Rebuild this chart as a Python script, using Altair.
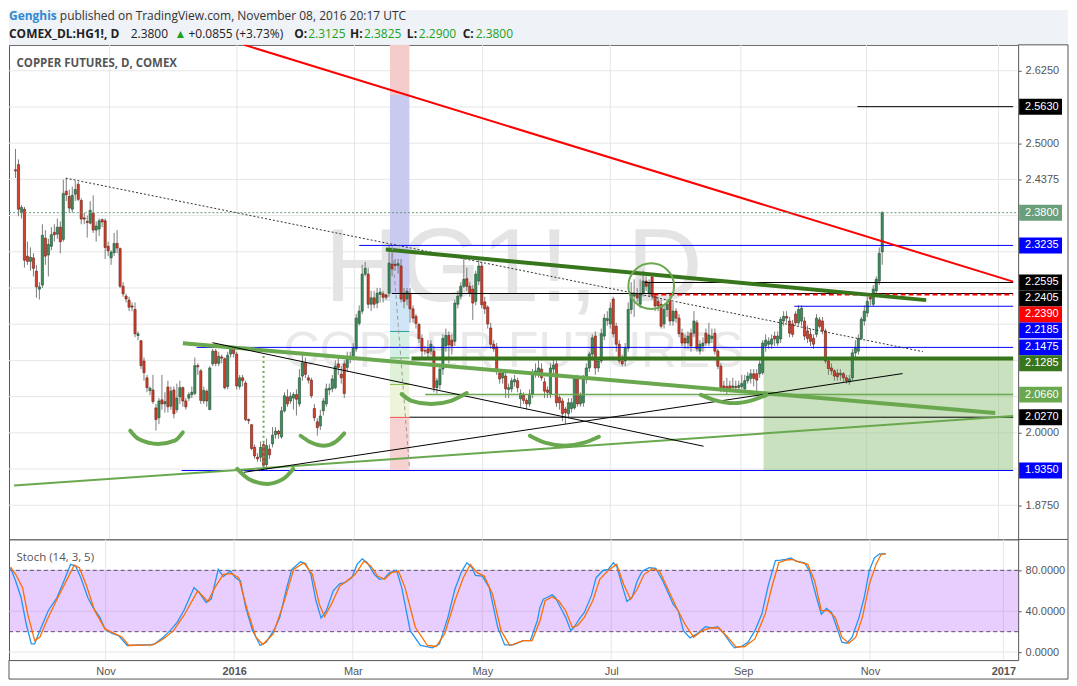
import altair as alt
import pandas as pd

# ---------------- candle data (bar index 0 .. 290, last bar = Nov 08 2016) ----------------
opens = [2.454, 2.463, 2.380, 2.386, 2.305, 2.296, 2.302, 2.279, 2.248, 2.255,
         2.336, 2.307, 2.322, 2.346, 2.343, 2.355, 2.334, 2.417, 2.408, 2.386,
         2.412, 2.429, 2.401, 2.371, 2.365, 2.362, 2.379, 2.350, 2.352, 2.368,
         2.366, 2.322, 2.302, 2.311, 2.327, 2.318, 2.253, 2.236, 2.229, 2.219,
         2.213, 2.168, 2.159, 2.124, 2.095, 2.073, 2.074, 2.043, 2.026, 2.057,
         2.050, 2.079, 2.046, 2.074, 2.040, 2.062, 2.078, 2.055, 2.060, 2.066,
         2.068, 2.116, 2.107, 2.055, 2.072, 2.040, 2.119, 2.141, 2.120, 2.131,
         2.128, 2.080, 2.136, 2.147, 2.136, 2.080, 2.095, 2.086, 2.023, 2.014,
         1.975, 1.958, 1.958, 1.980, 1.945, 1.972, 1.981, 1.997, 2.003, 1.993,
         2.038, 2.062, 2.055, 2.060, 2.066, 2.050, 2.098, 2.121, 2.095, 2.091,
         2.042, 2.019, 2.012, 2.038, 2.050, 2.074, 2.076, 2.078, 2.119, 2.101,
         2.119, 2.113, 2.127, 2.129, 2.145, 2.189, 2.210, 2.274, 2.274, 2.222,
         2.233, 2.224, 2.239, 2.240, 2.238, 2.241, 2.291, 2.291, 2.289, 2.288,
         2.241, 2.231, 2.241, 2.214, 2.201, 2.187, 2.163, 2.142, 2.145, 2.141,
         2.141, 2.078, 2.083, 2.110, 2.150, 2.168, 2.160, 2.158, 2.222, 2.236,
         2.253, 2.266, 2.253, 2.248, 2.227, 2.262, 2.288, 2.226, 2.217, 2.181,
         2.153, 2.148, 2.103, 2.095, 2.098, 2.075, 2.076, 2.088, 2.090, 2.059,
         2.065, 2.056, 2.050, 2.067, 2.102, 2.102, 2.110, 2.088, 2.074, 2.067,
         2.110, 2.119, 2.061, 2.055, 2.041, 2.033, 2.042, 2.043, 2.093, 2.050,
         2.052, 2.093, 2.112, 2.136, 2.167, 2.112, 2.124, 2.167, 2.194, 2.188,
         2.231, 2.184, 2.153, 2.124, 2.124, 2.146, 2.213, 2.236, 2.239, 2.222,
         2.241, 2.262, 2.241, 2.269, 2.236, 2.227, 2.222, 2.188, 2.213, 2.229,
         2.193, 2.210, 2.198, 2.172, 2.163, 2.155, 2.172, 2.172, 2.190, 2.141,
         2.150, 2.172, 2.155, 2.163, 2.172, 2.141, 2.115, 2.081, 2.080, 2.081,
         2.078, 2.080, 2.078, 2.080, 2.076, 2.090, 2.094, 2.102, 2.102, 2.102,
         2.104, 2.150, 2.153, 2.153, 2.167, 2.155, 2.162, 2.193, 2.201, 2.193,
         2.188, 2.205, 2.190, 2.193, 2.193, 2.176, 2.170, 2.163, 2.170, 2.195,
         2.193, 2.176, 2.124, 2.112, 2.107, 2.103, 2.100, 2.102, 2.095, 2.088,
         2.095, 2.138, 2.141, 2.163, 2.193, 2.207, 2.234, 2.222, 2.245, 2.262,
         2.3125]
highs = [2.490, 2.472, 2.393, 2.390, 2.330, 2.320, 2.310, 2.290, 2.260, 2.360,
         2.350, 2.335, 2.355, 2.360, 2.370, 2.365, 2.437, 2.440, 2.420, 2.425,
         2.435, 2.433, 2.405, 2.380, 2.375, 2.400, 2.410, 2.365, 2.370, 2.370,
         2.370, 2.330, 2.315, 2.345, 2.350, 2.320, 2.260, 2.240, 2.235, 2.225,
         2.225, 2.175, 2.160, 2.130, 2.100, 2.080, 2.100, 2.050, 2.060, 2.100,
         2.070, 2.090, 2.080, 2.080, 2.085, 2.090, 2.080, 2.060, 2.070, 2.080,
         2.130, 2.120, 2.110, 2.080, 2.075, 2.115, 2.145, 2.145, 2.140, 2.135,
         2.130, 2.140, 2.150, 2.150, 2.140, 2.100, 2.100, 2.090, 2.025, 2.015,
         1.980, 1.965, 1.985, 1.985, 1.990, 1.980, 2.010, 2.010, 2.005, 2.045,
         2.070, 2.075, 2.070, 2.070, 2.075, 2.110, 2.140, 2.130, 2.100, 2.095,
         2.050, 2.025, 2.040, 2.060, 2.085, 2.085, 2.100, 2.125, 2.130, 2.115,
         2.125, 2.140, 2.140, 2.155, 2.205, 2.220, 2.290, 2.295, 2.285, 2.245,
         2.245, 2.250, 2.250, 2.245, 2.240, 2.325, 2.320, 2.300, 2.300, 2.300,
         2.250, 2.250, 2.250, 2.220, 2.205, 2.190, 2.170, 2.150, 2.160, 2.160,
         2.150, 2.095, 2.120, 2.170, 2.180, 2.175, 2.170, 2.230, 2.245, 2.260,
         2.300, 2.285, 2.260, 2.255, 2.280, 2.300, 2.295, 2.235, 2.220, 2.190,
         2.160, 2.155, 2.110, 2.110, 2.105, 2.085, 2.095, 2.100, 2.095, 2.075,
         2.070, 2.060, 2.075, 2.110, 2.120, 2.125, 2.120, 2.095, 2.080, 2.120,
         2.130, 2.125, 2.065, 2.060, 2.045, 2.060, 2.060, 2.100, 2.100, 2.070,
         2.100, 2.120, 2.140, 2.170, 2.175, 2.130, 2.180, 2.205, 2.210, 2.225,
         2.235, 2.190, 2.160, 2.135, 2.155, 2.225, 2.260, 2.265, 2.250, 2.265,
         2.280, 2.270, 2.265, 2.275, 2.240, 2.235, 2.230, 2.220, 2.230, 2.240,
         2.225, 2.215, 2.205, 2.180, 2.170, 2.175, 2.180, 2.210, 2.195, 2.160,
         2.165, 2.180, 2.190, 2.180, 2.180, 2.145, 2.120, 2.090, 2.095, 2.090,
         2.095, 2.090, 2.090, 2.100, 2.100, 2.105, 2.110, 2.110, 2.110, 2.125,
         2.160, 2.170, 2.165, 2.170, 2.175, 2.175, 2.200, 2.210, 2.210, 2.200,
         2.195, 2.210, 2.220, 2.220, 2.200, 2.185, 2.180, 2.170, 2.205, 2.200,
         2.200, 2.180, 2.130, 2.120, 2.110, 2.110, 2.110, 2.105, 2.100, 2.100,
         2.145, 2.160, 2.170, 2.200, 2.220, 2.235, 2.240, 2.255, 2.270, 2.320,
         2.3825]
lows = [2.440, 2.374, 2.370, 2.285, 2.290, 2.280, 2.270, 2.233, 2.230, 2.250,
        2.290, 2.270, 2.315, 2.330, 2.335, 2.310, 2.330, 2.400, 2.380, 2.380,
        2.400, 2.400, 2.360, 2.360, 2.337, 2.360, 2.345, 2.330, 2.340, 2.355,
        2.300, 2.305, 2.290, 2.305, 2.310, 2.250, 2.235, 2.225, 2.210, 2.210,
        2.165, 2.160, 2.110, 2.090, 2.070, 2.065, 2.050, 2.004, 2.015, 2.040,
        2.035, 2.035, 2.040, 2.025, 2.035, 2.050, 2.045, 2.040, 2.055, 2.060,
        2.065, 2.100, 2.050, 2.050, 2.045, 2.040, 2.115, 2.115, 2.115, 2.120,
        2.075, 2.075, 2.130, 2.130, 2.075, 2.075, 2.080, 2.020, 2.015, 1.970,
        1.955, 1.950, 1.950, 1.935, 1.935, 1.955, 1.975, 1.990, 1.990, 1.990,
        2.035, 2.045, 2.050, 2.040, 2.030, 2.045, 2.090, 2.095, 2.085, 2.060,
        2.020, 1.995, 2.005, 2.030, 2.045, 2.065, 2.070, 2.075, 2.100, 2.085,
        2.060, 2.105, 2.120, 2.125, 2.140, 2.185, 2.205, 2.270, 2.215, 2.210,
        2.215, 2.215, 2.225, 2.225, 2.230, 2.235, 2.270, 2.280, 2.275, 2.225,
        2.215, 2.220, 2.190, 2.190, 2.180, 2.155, 2.130, 2.135, 2.130, 2.135,
        2.070, 2.068, 2.075, 2.100, 2.140, 2.120, 2.135, 2.150, 2.215, 2.230,
        2.250, 2.245, 2.235, 2.195, 2.220, 2.255, 2.215, 2.205, 2.180, 2.145,
        2.140, 2.100, 2.085, 2.085, 2.060, 2.060, 2.070, 2.080, 2.070, 2.045,
        2.050, 2.040, 2.045, 2.060, 2.095, 2.095, 2.090, 2.060, 2.060, 2.060,
        2.100, 2.045, 2.040, 2.020, 2.015, 2.025, 2.035, 2.040, 2.045, 2.045,
        2.045, 2.085, 2.105, 2.125, 2.100, 2.105, 2.120, 2.160, 2.185, 2.180,
        2.165, 2.140, 2.120, 2.115, 2.115, 2.140, 2.205, 2.200, 2.225, 2.215,
        2.235, 2.245, 2.235, 2.230, 2.210, 2.210, 2.180, 2.180, 2.200, 2.185,
        2.185, 2.190, 2.165, 2.150, 2.145, 2.145, 2.140, 2.165, 2.140, 2.135,
        2.140, 2.150, 2.150, 2.155, 2.135, 2.110, 2.070, 2.070, 2.065, 2.070,
        2.070, 2.072, 2.072, 2.075, 2.070, 2.085, 2.085, 2.080, 2.065, 2.095,
        2.100, 2.140, 2.145, 2.145, 2.150, 2.150, 2.155, 2.185, 2.190, 2.165,
        2.165, 2.185, 2.185, 2.185, 2.160, 2.155, 2.150, 2.145, 2.165, 2.180,
        2.170, 2.120, 2.100, 2.100, 2.090, 2.090, 2.090, 2.088, 2.085, 2.083,
        2.090, 2.130, 2.135, 2.160, 2.185, 2.200, 2.220, 2.218, 2.240, 2.255,
        2.290]
closes = [2.452, 2.386, 2.389, 2.298, 2.296, 2.303, 2.284, 2.252, 2.252, 2.341,
          2.305, 2.325, 2.342, 2.342, 2.355, 2.330, 2.413, 2.411, 2.388, 2.410,
          2.420, 2.403, 2.369, 2.369, 2.363, 2.384, 2.350, 2.357, 2.366, 2.364,
          2.320, 2.314, 2.312, 2.327, 2.319, 2.253, 2.240, 2.231, 2.217, 2.217,
          2.171, 2.171, 2.116, 2.104, 2.078, 2.077, 2.054, 2.023, 2.055, 2.050,
          2.054, 2.045, 2.072, 2.033, 2.060, 2.078, 2.055, 2.045, 2.066, 2.070,
          2.116, 2.114, 2.056, 2.073, 2.055, 2.112, 2.141, 2.120, 2.132, 2.129,
          2.078, 2.134, 2.147, 2.137, 2.081, 2.095, 2.090, 2.023, 2.021, 1.973,
          1.960, 1.955, 1.975, 1.944, 1.978, 1.962, 1.996, 2.003, 1.998, 2.038,
          2.064, 2.050, 2.063, 2.066, 2.058, 2.095, 2.121, 2.101, 2.091, 2.064,
          2.026, 2.009, 2.029, 2.055, 2.076, 2.077, 2.093, 2.115, 2.113, 2.095,
          2.068, 2.132, 2.131, 2.146, 2.198, 2.210, 2.274, 2.284, 2.222, 2.233,
          2.222, 2.241, 2.243, 2.234, 2.234, 2.293, 2.283, 2.289, 2.292, 2.231,
          2.227, 2.244, 2.214, 2.198, 2.189, 2.163, 2.141, 2.141, 2.138, 2.153,
          2.078, 2.090, 2.110, 2.163, 2.168, 2.152, 2.150, 2.224, 2.236, 2.253,
          2.265, 2.253, 2.241, 2.224, 2.274, 2.288, 2.221, 2.214, 2.188, 2.153,
          2.145, 2.107, 2.093, 2.103, 2.076, 2.078, 2.090, 2.092, 2.078, 2.068,
          2.056, 2.050, 2.067, 2.103, 2.107, 2.112, 2.095, 2.072, 2.070, 2.112,
          2.117, 2.052, 2.052, 2.033, 2.035, 2.052, 2.052, 2.093, 2.050, 2.064,
          2.093, 2.112, 2.136, 2.164, 2.112, 2.124, 2.171, 2.198, 2.197, 2.215,
          2.171, 2.153, 2.124, 2.119, 2.146, 2.213, 2.241, 2.241, 2.233, 2.240,
          2.262, 2.253, 2.258, 2.236, 2.219, 2.219, 2.184, 2.213, 2.222, 2.193,
          2.210, 2.198, 2.171, 2.155, 2.155, 2.167, 2.150, 2.193, 2.145, 2.153,
          2.155, 2.155, 2.169, 2.167, 2.141, 2.115, 2.078, 2.078, 2.076, 2.076,
          2.081, 2.078, 2.082, 2.085, 2.090, 2.098, 2.102, 2.094, 2.091, 2.119,
          2.155, 2.160, 2.158, 2.162, 2.162, 2.167, 2.196, 2.201, 2.198, 2.172,
          2.170, 2.190, 2.213, 2.215, 2.167, 2.163, 2.158, 2.153, 2.198, 2.184,
          2.176, 2.124, 2.111, 2.107, 2.098, 2.097, 2.103, 2.095, 2.090, 2.093,
          2.138, 2.146, 2.163, 2.196, 2.210, 2.227, 2.231, 2.248, 2.265, 2.310,
          2.380]

# ---------------- axes ticks ----------------
month_pos = [31.5, 74.1, 113.4, 156.3, 199.0, 242.7, 284.7, 328.9]
month_lab = ["Nov", "2016", "Mar", "May", "Jul", "Sep", "Nov", "2017"]
price_ticks = [1.875, 1.9375, 2.0, 2.0625, 2.125, 2.1875, 2.25, 2.3125,
               2.375, 2.4375, 2.5, 2.5625, 2.625]
stoch_ticks = [0, 40, 80]
stoch_band = [20, 80]

# ---------------- stochastic (14,3,5) ----------------
k_bar = [0, 1.7, 3.5, 5.2, 6.9, 8.0, 9.7, 12.5, 15.4, 17.7, 19.9, 21.6, 23.3, 25.6, 27.3,
         29.6, 31.3, 33.6, 35.8, 38.7, 42.7, 46.1, 47.8, 50.6, 52.9, 55.2, 57.4, 60.8,
         62.5, 64.8, 66.5, 68.8, 70.5, 72.8, 74.5, 76.2, 77.9, 80.2, 82.7, 84.7, 87.5,
         89.2, 91.5, 93.2, 96.1, 97.8, 99.5, 101.2, 102.9, 104.6, 106.9, 109.1, 110.8,
         113.1, 114.8, 116.5, 118.2, 120.5, 122.2, 123.9, 125.6, 127.9, 129.6, 132.4,
         135.8, 139.8, 142.1, 144.9, 147.2, 149.5, 151.2, 152.9, 154.0, 156.3, 158.6,
         161.4, 163.7, 166.5, 169.9, 172.2, 174.5, 175.4, 176.5, 177.7, 179.4, 180.5,
         182.2, 183.9, 185.6, 186.7, 188.4, 190.1, 192.4, 194.0, 196.3, 198.0, 199.7,
         200.8, 202.5, 204.2, 205.9, 207.6, 209.3, 211.6, 213.8, 216.1, 217.8, 219.5,
         221.2, 222.9, 225.1, 227.4, 230.2, 232.5, 234.2, 236.4, 238.7, 239.8, 242.1,
         244.3, 246.6, 248.9, 251.1, 253.4, 255.1, 256.8, 258.5, 260.2, 263.0, 264.7,
         267.0, 268.6, 270.3, 272.0, 273.7, 275.4, 277.1, 278.8, 281.1, 282.8, 284.5,
         286.2, 287.9, 290.0]
k_val = [82.5, 69.6, 53.4, 27.5, 8.1, 8.1, 21.0, 40.5, 53.4, 69.6, 85.8, 84.1, 72.8, 53.4,
         43.7, 34.0, 22.7, 18.4, 16.2, 6.5, 7.1, 7.1, 8.1, 14.6, 21.0, 29.1, 40.5, 63.1,
         58.3, 48.5, 51.8, 80.9, 73.8, 79.3, 72.8, 69.6, 43.7, 21.0, 6.5, 9.7, 22.7, 34.0,
         63.1, 80.9, 88.3, 86.4, 76.1, 50.2, 33.3, 40.5, 59.9, 67.0, 68.0, 72.8, 85.8,
         91.3, 87.4, 76.1, 71.2, 72.2, 77.7, 79.9, 63.1, 21.0, 6.5, 4.2, 8.1, 34.0, 61.5,
         79.3, 87.4, 82.5, 75.1, 74.4, 63.1, 24.3, 7.1, 7.1, 11.3, 11.3, 30.7, 43.7, 51.8,
         53.4, 56.0, 53.4, 43.7, 34.0, 21.0, 24.3, 32.4, 38.8, 55.0, 72.8, 79.9, 80.9,
         87.4, 84.1, 66.3, 49.5, 53.4, 69.6, 79.3, 82.5, 81.9, 69.6, 58.3, 46.9, 40.5,
         21.0, 13.9, 17.8, 24.9, 23.6, 24.9, 17.8, 8.1, 4.2, 5.5, 9.7, 21.0, 37.2, 66.3,
         89.6, 90.0, 90.6, 92.2, 89.0, 87.4, 79.3, 53.4, 37.2, 42.7, 38.8, 24.3, 9.7, 8.7,
         14.6, 34.0, 53.4, 79.9, 92.2, 96.1, 96.1]
d_bar = [0, 1.7, 4.0, 5.7, 8.0, 9.7, 12.0, 15.4, 18.2, 21.1, 22.8, 25.0, 27.9, 31.3, 34.7,
         37.0, 39.2, 47.2, 50.6, 54.0, 57.4, 62.0, 65.4, 67.7, 70.5, 73.3, 75.6, 78.5,
         81.3, 83.6, 87.0, 90.4, 93.8, 97.2, 100.0, 102.3, 104.0, 106.3, 109.1, 111.4,
         114.2, 117.1, 119.4, 121.6, 123.9, 126.2, 128.5, 130.7, 134.1, 138.1, 141.0,
         143.8, 147.2, 150.0, 152.3, 154.6, 156.9, 159.7, 162.5, 165.4, 169.9, 172.8,
         175.4, 177.1, 179.4, 181.6, 183.9, 186.1, 187.8, 190.1, 192.9, 195.2, 198.0,
         200.8, 203.1, 205.4, 207.6, 209.9, 212.7, 215.0, 217.8, 220.6, 223.4, 226.3,
         229.1, 231.9, 234.7, 237.6, 240.4, 243.2, 246.6, 250.0, 252.3, 254.5, 256.8,
         259.0, 261.3, 264.1, 266.4, 268.6, 270.9, 273.2, 275.4, 277.7, 280.0, 282.2,
         284.5, 286.7, 288.4, 290.0]
d_val = [83.2, 76.1, 63.1, 37.2, 11.3, 14.6, 30.7, 51.8, 68.0, 85.1, 82.5, 66.3, 40.5, 22.7,
         17.8, 14.6, 6.5, 7.1, 12.9, 21.0, 35.6, 59.9, 49.5, 63.1, 76.1, 76.7, 72.8, 40.5,
         14.6, 7.4, 17.8, 46.9, 80.9, 87.4, 76.1, 46.9, 34.6, 46.9, 64.7, 69.6, 76.1, 89.0,
         84.1, 74.4, 71.2, 77.7, 79.3, 63.1, 24.3, 6.5, 5.5, 17.8, 50.2, 72.8, 85.8, 77.7,
         74.4, 56.6, 21.0, 6.5, 11.3, 11.3, 30.7, 50.2, 54.0, 50.2, 40.5, 24.3, 25.9, 34.0,
         50.2, 71.2, 79.9, 85.8, 66.3, 51.8, 61.5, 76.1, 81.6, 79.3, 61.5, 43.7, 27.5, 14.6,
         21.0, 23.6, 23.6, 14.6, 4.9, 5.5, 12.9, 37.2, 64.7, 87.4, 90.0, 90.6, 88.0, 85.8,
         69.6, 40.5, 40.5, 34.0, 14.6, 8.7, 14.6, 34.0, 66.3, 85.8, 95.5, 96.1]

# ---------------- drawings (bar index, price) ----------------
seg_x1 = [76.5, 16.8, 123.9, 56.0, -0.5, 65.9, 76.4, 126.0]
seg_y1 = [2.6697, 2.4396, 2.3164, 2.1546, 1.9090, 2.1556, 1.9319, 2.3221]
seg_x2 = [333.8, 303.6, 304.7, 327.8, 333.8, 230.2, 296.8, 131.8]
seg_y2 = [2.2610, 2.1401, 2.2291, 2.0341, 2.0290, 1.9769, 2.1023, 1.9400]
seg_color = ["#ff0000", "#333333", "#38761d", "#6aa84f", "#6aa84f", "#000000", "#000000", "#9a9a9a"]
seg_width = [2, 1, 4, 4, 2, 1, 1, 1]
seg_dash = [None, [2, 2], None, None, None, None, None, [4, 3]]

h_price = [2.5630, 2.3235, 2.2595, 2.2405, 2.2390, 2.2185, 2.1475, 2.1285, 2.0660, 2.0270, 1.9350]
h_start = [281.7, 115.0, 210.5, 125.9, 213.4, 260.6, 60.6, 132.5, 137.1, 131.8, 55.6]
h_color = ["#000000", "#0000ff", "#000000", "#000000", "#ff0000", "#0000ff", "#0000ff",
           "#38761d", "#6aa84f", "#000000", "#0000ff"]
h_width = [1, 1, 1, 1, 2, 1, 1, 4, 1.5, 1, 1]
h_dash = [None, None, None, None, [5, 3], None, None, None, None, None, None]

last_price = 2.3800
lab_price = [2.5630, 2.3800, 2.3235, 2.2595, 2.2405, 2.2390, 2.2185, 2.1475, 2.1285, 2.0660, 2.0270, 1.9350]
lab_bg = ["#000000", "#6a9f7c", "#0000ff", "#000000", "#000000", "#ff0000", "#0000ff",
          "#0000ff", "#38761d", "#6aa84f", "#000000", "#0000ff"]

fib_x = [125.3, 131.8]
fib_bounds = [2.6697, 2.5830, 2.2403, 2.1750, 2.1293, 2.0834, 2.0267, 1.9350]
fib_colors = ["#f4cccc", "#c9caf0", "#d0e5f5", "#d4efe4", "#dff2d8", "#eef4da", "#f6d2d2"]
fib_line_price = [2.1750, 2.1293, 2.0834, 2.0267]
fib_line_color = ["#26a69a", "#4caf50", "#8bc34a", "#ef5350"]

zone_x = [250.3, 333.8]
zone_y = [1.9350, 2.1285]

arc_id = [1] * 5 + [2] * 5 + [3] * 5 + [4] * 5 + [5] * 5 + [6] * 5
arc_bar = [38.4, 41.2, 47.8, 53.3, 56.0,
           74.2, 78.0, 84.1, 89.6, 92.9,
           95.4, 98.4, 103.4, 107.2, 110.0,
           129.2, 132.5, 139.1, 145.7, 151.0,
           172.1, 177.1, 183.7, 190.3, 195.2,
           229.3, 233.7, 240.3, 246.9, 251.3]
arc_price = [2.0037, 1.9894, 1.9808, 1.9865, 2.0008,
             1.9377, 1.9205, 1.9119, 1.9205, 1.9377,
             1.9950, 1.9847, 1.9778, 1.9847, 1.9990,
             2.0668, 2.0553, 2.0496, 2.0553, 2.0686,
             1.9950, 1.9830, 1.9778, 1.9830, 1.9933,
             2.0656, 2.0570, 2.0513, 2.0570, 2.0656]
circle_bar = [212.7]
circle_price = [2.2532]
vdot_bar = [83.0]
vdot_lo = [1.9400]
vdot_hi = [2.1327]

# ---------------- layout / style ----------------
W, HM, HS = 1012, 496, 121
X_DOM = [-0.5, 333.8]
Y_DOM = [1.816, 2.6697]
S_DOM = [-7.8, 110.2]
FONT = "Liberation Sans"
UI = "Open Sans"
GRID = "#e6e6e6"
FRAME = "#555555"
AX = "#555555"
HEADER_BG = "#eff2f6"
UP_FILL, UP_LINE = "#3f8d5d", "#1f4d31"
DN_FILL, DN_LINE = "#d2412d", "#6b1d10"

rng = Y_DOM[1] - Y_DOM[0]


def p2px(p):
    return (Y_DOM[1] - p) / rng * HM


def px2p(px):
    return Y_DOM[1] - px / HM * rng


# stacked positions of the coloured price labels (they push each other down)
order = sorted(range(len(lab_price)), key=lambda i: -lab_price[i])
pos = {}
prev = -1e9
for i in order:
    yv = max(p2px(lab_price[i]), prev + 16)
    pos[i] = yv
    prev = yv

# axis tick labels that stay visible (the coloured boxes hide the others)
axis_ticks = [t for t in price_ticks if all(abs(p2px(t) - pos[i]) > 11 for i in pos)]

xscale = alt.Scale(domain=X_DOM, nice=False, zero=False)
yscale = alt.Scale(domain=Y_DOM, nice=False, zero=False)
sscale = alt.Scale(domain=S_DOM, nice=False, zero=False)

main_y_axis = alt.Axis(orient="right", values=axis_ticks, format=".4f", title=None, grid=False,
                       domain=False, ticks=True, tickSize=3, tickColor=AX, labelColor=AX,
                       labelFont=FONT, labelFontSize=11, labelPadding=4, labelOverlap=False,
                       labelFlush=False)
label_expr = " : ".join(f"datum.value == {p} ? '{l}'" for p, l in zip(month_pos, month_lab)) + " : ''"
year_test = " || ".join(f"datum.value == {p}" for p, l in zip(month_pos, month_lab) if l.isdigit())
stoch_x_axis = alt.Axis(values=month_pos, labelExpr=label_expr, title=None, grid=False, domain=False,
                        ticks=False, labelPadding=5, labelColor=AX, labelFont=FONT, labelFontSize=11,
                        labelFontWeight={"condition": {"test": year_test, "value": "bold"}, "value": "normal"},
                        labelOverlap=False, labelFlush=False)
stoch_y_axis = alt.Axis(orient="right", values=stoch_ticks, format=".4f", title=None, grid=False,
                        domain=False, ticks=True, tickSize=3, tickColor=AX, labelColor=AX,
                        labelFont=FONT, labelFontSize=11, labelPadding=4, labelOverlap=False,
                        labelFlush=False)


def XM(f):
    return alt.X(f"{f}:Q", scale=xscale, axis=None)


def YM(f):
    return alt.Y(f"{f}:Q", scale=yscale, axis=main_y_axis)


def XS(f):
    return alt.X(f"{f}:Q", scale=xscale, axis=stoch_x_axis)


def YS(f):
    return alt.Y(f"{f}:Q", scale=sscale, axis=stoch_y_axis)


one = pd.DataFrame({"k": [0]})


def prule(x, x2, y, y2, color, width=1.0):
    return alt.Chart(one).mark_rule(color=color, strokeWidth=width).encode(
        x=alt.value(x), x2=alt.value(x2), y=alt.value(y), y2=alt.value(y2))


def prect(x, x2, y, y2, fill):
    return alt.Chart(one).mark_rect(fill=fill).encode(
        x=alt.value(x), x2=alt.value(x2), y=alt.value(y), y2=alt.value(y2))


def ptext(txt, x, y, size, color, weight="normal", font=UI, align="left", baseline="alphabetic"):
    return alt.Chart(one).mark_text(text=txt, fontSize=size, color=color, fontWeight=weight,
                                    font=font, align=align, baseline=baseline).encode(
        x=alt.value(x), y=alt.value(y))


def rule_kw(color, width, dash):
    kw = dict(color=color, strokeWidth=width, clip=True)
    if dash:
        kw["strokeDash"] = dash
    return kw


# ---------------- main panel ----------------
candles = pd.DataFrame({"i": list(range(len(closes))), "o": opens, "h": highs, "l": lows, "c": closes})
candles["fill"] = [UP_FILL if c >= o else DN_FILL for o, c in zip(opens, closes)]
candles["line"] = [UP_LINE if c >= o else DN_LINE for o, c in zip(opens, closes)]

main_layers = [
    prect(0, W + 50, -35, 0, HEADER_BG),
    alt.Chart(pd.DataFrame({"m": month_pos})).mark_rule(color=GRID).encode(
        x=XM("m"), y=alt.value(0), y2=alt.value(HM)),
    alt.Chart(pd.DataFrame({"p": price_ticks})).mark_rule(color=GRID).encode(
        y=YM("p"), x=alt.value(0), x2=alt.value(W)),
    ptext("HG1!, D", W / 2, 257, 105, "#e4e4e4", font=FONT, align="center"),
    ptext("COPPER FUTURES", W / 2, 323, 50, "#e9e9e9", font=FONT, align="center"),
]

fib_df = pd.DataFrame({"x0": [fib_x[0]] * (len(fib_bounds) - 1), "x1": [fib_x[1]] * (len(fib_bounds) - 1),
                       "top": fib_bounds[:-1], "bot": fib_bounds[1:], "col": fib_colors})
main_layers.append(alt.Chart(fib_df).mark_rect(clip=True).encode(
    x=XM("x0"), x2=alt.X2("x1"), y=YM("top"), y2=alt.Y2("bot"), fill=alt.Fill("col:N", scale=None)))
zone_df = pd.DataFrame({"x0": [zone_x[0]], "x1": [zone_x[1]], "y0": [zone_y[0]], "y1": [zone_y[1]]})
main_layers.append(alt.Chart(zone_df).mark_rect(fill="#93c47d", opacity=0.5, clip=True).encode(
    x=XM("x0"), x2=alt.X2("x1"), y=YM("y0"), y2=alt.Y2("y1")))

# candles
main_layers.append(alt.Chart(candles).mark_rule(color="#7b7b7b", strokeWidth=1).encode(
    x=XM("i"), y=YM("l"), y2=alt.Y2("h")))
main_layers.append(alt.Chart(candles).mark_bar(size=2.2, strokeWidth=0.6).encode(
    x=XM("i"), y=YM("o"), y2=alt.Y2("c"),
    fill=alt.Fill("fill:N", scale=None), stroke=alt.Stroke("line:N", scale=None)))

# fib level ticks
fl_df = pd.DataFrame({"x0": [fib_x[0]] * 4, "x1": [fib_x[1]] * 4, "p": fib_line_price, "col": fib_line_color})
main_layers.append(alt.Chart(fl_df).mark_rule(strokeWidth=1).encode(
    x=XM("x0"), x2=alt.X2("x1"), y=YM("p"), color=alt.Color("col:N", scale=None)))

# horizontal lines
h_df = pd.DataFrame({"x0": h_start, "x1": [X_DOM[1]] * len(h_start), "p": h_price})
for i in range(len(h_price)):
    main_layers.append(alt.Chart(h_df.iloc[[i]]).mark_rule(**rule_kw(h_color[i], h_width[i], h_dash[i])).encode(
        x=XM("x0"), x2=alt.X2("x1"), y=YM("p")))

# trend lines
seg_df = pd.DataFrame({"x1": seg_x1, "y1": seg_y1, "x2": seg_x2, "y2": seg_y2})
for i in range(len(seg_x1)):
    main_layers.append(alt.Chart(seg_df.iloc[[i]]).mark_rule(**rule_kw(seg_color[i], seg_width[i], seg_dash[i])).encode(
        x=XM("x1"), x2=alt.X2("x2"), y=YM("y1"), y2=alt.Y2("y2")))

# arcs, circle, dotted vertical
arc_df = pd.DataFrame({"id": arc_id, "b": arc_bar, "p": arc_price})
main_layers.append(alt.Chart(arc_df).mark_line(color="#6aa84f", strokeWidth=4, interpolate="monotone",
                                               strokeCap="round", clip=True).encode(
    x=XM("b"), y=YM("p"), detail="id:N"))
main_layers.append(alt.Chart(pd.DataFrame({"b": circle_bar, "p": circle_price})).mark_point(
    shape="circle", size=2100, filled=False, color="#6aa84f", strokeWidth=2, opacity=1).encode(
    x=XM("b"), y=YM("p")))
main_layers.append(alt.Chart(pd.DataFrame({"b": vdot_bar, "lo": vdot_lo, "hi": vdot_hi})).mark_rule(
    color="#6aa84f", strokeWidth=2, strokeDash=[2, 3]).encode(x=XM("b"), y=YM("lo"), y2=alt.Y2("hi")))

# last price dotted line
main_layers.append(alt.Chart(pd.DataFrame({"p": [last_price]})).mark_rule(
    color="#5d9b70", strokeDash=[2, 2]).encode(y=YM("p"), x=alt.value(0), x2=alt.value(W)))

# right-side price labels
lab_df = pd.DataFrame({
    "txt": [f"{p:.4f}" for p in lab_price],
    "bg": lab_bg,
    "yc": [px2p(pos[i]) for i in range(len(lab_price))],
    "yt": [px2p(pos[i] - 8) for i in range(len(lab_price))],
    "yb": [px2p(pos[i] + 8) for i in range(len(lab_price))],
})
main_layers.append(alt.Chart(lab_df).mark_rect().encode(
    x=alt.value(W + 1), x2=alt.value(W + 44), y=YM("yt"), y2=alt.Y2("yb"), fill=alt.Fill("bg:N", scale=None)))
main_layers.append(alt.Chart(lab_df).mark_text(align="left", baseline="middle", color="white", font=FONT,
                                               fontSize=11).encode(
    x=alt.value(W + 7), y=YM("yc"), text="txt:N"))

# texts
main_layers.append(ptext("COPPER FUTURES, D, COMEX", 7.5, 19, 11.5, "#555555", weight="bold", baseline="middle"))
GREEN_TXT = "#1ca21c"
main_layers += [
    ptext("Genghis", 0, -25, 12, "#2f8ad3", weight="bold"),
    ptext("published on TradingView.com, November 08, 2016 20:17 UTC", 51, -25, 12, "#333333"),
    ptext("COMEX_DL:HG1!, D", 0, -7, 12, "#222222", weight="bold"),
    ptext("2.3800", 122, -7, 12, "#222222"),
    ptext("\u25b2", 166, -7, 12, GREEN_TXT),
    ptext("+0.0855 (+3.73%)", 180, -7, 12, "#222222"),
    ptext("O:", 286, -7, 12, "#222222", weight="bold"),
    ptext("2.3125", 300, -7, 12, GREEN_TXT),
    ptext("H:", 342, -7, 12, "#222222", weight="bold"),
    ptext("2.3825", 356, -7, 12, GREEN_TXT),
    ptext("L:", 399, -7, 12, "#222222", weight="bold"),
    ptext("2.2900", 411, -7, 12, GREEN_TXT),
    ptext("C:", 455, -7, 12, "#222222", weight="bold"),
    ptext("2.3800", 468, -7, 12, GREEN_TXT),
]
# frame around price axis area
main_layers += [prule(W, W + 50, 0, 0, FRAME), prule(W + 50, W + 50, 0, HM, FRAME)]

main = alt.layer(*main_layers).properties(width=W, height=HM)

# ---------------- stochastic panel ----------------
k_df = pd.DataFrame({"b": k_bar, "v": k_val})
d_df = pd.DataFrame({"b": d_bar, "v": d_val})
st_layers = [
    alt.Chart(pd.DataFrame({"m": month_pos})).mark_rule(color=GRID).encode(
        x=XS("m"), y=alt.value(0), y2=alt.value(HS)),
    alt.Chart(pd.DataFrame({"t": stoch_ticks})).mark_rule(color=GRID).encode(
        y=YS("t"), x=alt.value(0), x2=alt.value(W)),
    alt.Chart(pd.DataFrame({"lo": [stoch_band[0]], "hi": [stoch_band[1]]})).mark_rect(
        fill="#9933ff", opacity=0.24).encode(x=alt.value(0), x2=alt.value(W), y=YS("lo"), y2=alt.Y2("hi")),
    alt.Chart(pd.DataFrame({"v": stoch_band})).mark_rule(color="#5e4d6e", strokeDash=[4, 3]).encode(
        y=YS("v"), x=alt.value(0), x2=alt.value(W)),
    alt.Chart(k_df).mark_line(color="#2196f3", strokeWidth=1.3, clip=True).encode(x=XS("b"), y=YS("v")),
    alt.Chart(d_df).mark_line(color="#ff6d00", strokeWidth=1.3, clip=True).encode(x=XS("b"), y=YS("v")),
    ptext("Stoch (14, 3, 5)", 7.5, 18.5, 11.5, "#555555", baseline="middle"),
    prule(W, W + 50, 0, 0, FRAME),
    prule(W + 50, W + 50, 0, HS + 19, FRAME),
    prule(0, W + 50, HS + 19, HS + 19, FRAME),
    prule(0, 0, HS, HS + 19, FRAME),
]
stoch = alt.layer(*st_layers).properties(width=W, height=HS)

chart = alt.vconcat(main, stoch, spacing=0, bounds="flush").properties(
    background="white", padding=0
).configure_view(stroke=FRAME, strokeWidth=1, fill="white")

chart.save("out.html", embed_options={"renderer": "svg", "actions": False})
